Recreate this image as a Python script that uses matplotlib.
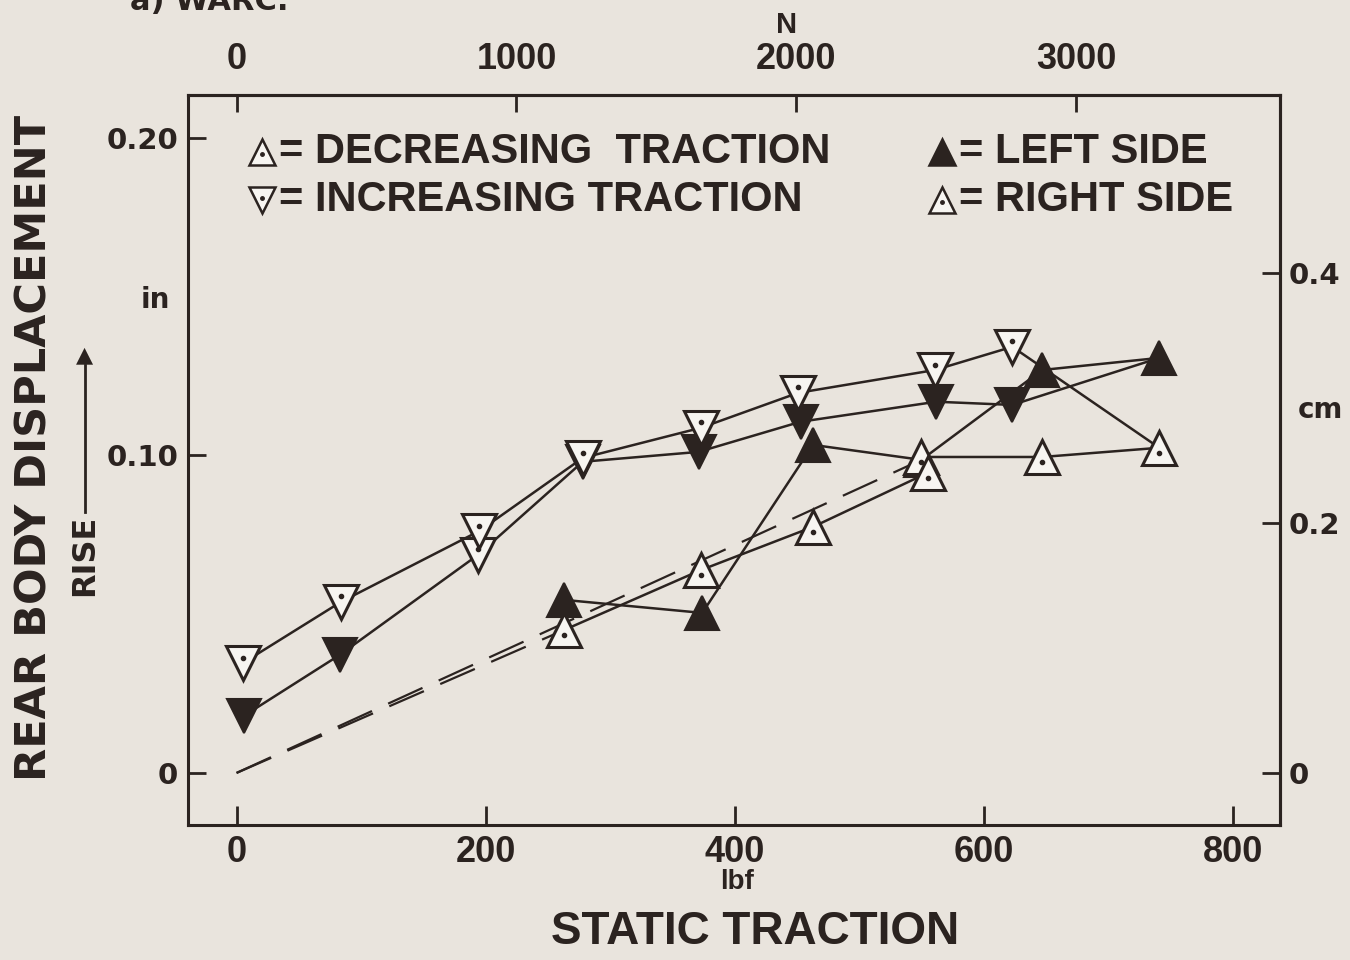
import matplotlib
matplotlib.use("Agg")
import matplotlib.pyplot as plt

# (lbf, in)
inc_right_lbf = [5, 84, 195, 278, 373, 451, 561, 623]
inc_right_in = [0.0346, 0.0539, 0.0762, 0.0992, 0.1087, 0.1197, 0.1269, 0.1342]
inc_left_lbf = [6, 83, 194, 278, 371, 453, 562, 623]
inc_left_in = [0.0180, 0.0372, 0.0687, 0.0980, 0.1011, 0.1106, 0.1169, 0.1159]
inc_left_hollow = [False, False, True, False, False, False, False, False]
dec_left_lbf = [741, 647, 550, 463, 374, 263]
dec_left_in = [0.1307, 0.1269, 0.0986, 0.1033, 0.0504, 0.0545]
dec_right_lbf = [741, 647, 550, 555, 463, 373, 263]
dec_right_in = [0.1024, 0.0995, 0.0995, 0.0945, 0.0775, 0.0639, 0.0450]
fit_a_lbf = [0, 263]
fit_a_in = [0, 0.0450]
fit_b_lbf = [0, 550]
fit_b_in = [0, 0.0986]

lbf_ticks = [0, 200, 400, 600, 800]
in_ticks = [0, 0.10, 0.20]
in_labels = ["0", "0.10", "0.20"]
n_ticks = [0, 1000, 2000, 3000]
cm_ticks = [0, 0.2, 0.4]
cm_labels = ["0", "0.2", "0.4"]

INK = "#2b2320"
PAPER = "#e9e4dd"
HOLLOW = "#f7f5f1"
NARROW = ["Liberation Sans", "DejaVu Sans"]
WIDE = ["DejaVu Sans"]

fig = plt.figure(figsize=(13.5, 9.6), dpi=100, facecolor=PAPER)
ax = fig.add_axes([188/1350, 1-825/960, 1092/1350, 730/960], facecolor=PAPER)
ax.set_xlim(-39, 838)
ax.set_ylim(-0.0164, 0.2135)

lw = 1.8
ax.plot(inc_right_lbf + dec_right_lbf[:1], inc_right_in + dec_right_in[:1], color=INK, lw=lw, zorder=2)
ax.plot(inc_left_lbf + dec_left_lbf[:1], inc_left_in + dec_left_in[:1], color=INK, lw=lw, zorder=2)
ax.plot(dec_left_lbf, dec_left_in, color=INK, lw=lw, zorder=2)
ax.plot(dec_right_lbf, dec_right_in, color=INK, lw=lw, zorder=2)
ax.plot(fit_a_lbf, fit_a_in, color=INK, lw=1.6, dashes=(17, 8), zorder=1)
ax.plot(fit_b_lbf, fit_b_in, color=INK, lw=1.6, dashes=(17, 8), zorder=1)

ms = 24
def marks(xs, ys, m, hollow):
    for x, y, h in zip(xs, ys, hollow):
        if h:
            ax.plot(x, y, m, ms=ms, mfc=HOLLOW, mec=INK, mew=2.2, zorder=4)
            dy = -0.0017 if m == "^" else 0.0017
            ax.plot(x, y + dy, "o", ms=3, color=INK, zorder=5)
        else:
            ax.plot(x, y, m, ms=ms, mfc=INK, mec=INK, mew=1.5, zorder=3)

marks(inc_left_lbf, inc_left_in, "v", inc_left_hollow)
marks(dec_left_lbf, dec_left_in, "^", [False] * len(dec_left_lbf))
marks(inc_right_lbf, inc_right_in, "v", [True] * len(inc_right_lbf))
marks(dec_right_lbf, dec_right_in, "^", [True] * len(dec_right_lbf))

# axes frame and ticks
for s in ax.spines.values():
    s.set_linewidth(2.2)
    s.set_color(INK)
ax.set_xticks(lbf_ticks)
ax.set_xticklabels([str(t) for t in lbf_ticks], family=NARROW, weight="bold", size=26, color=INK)
ax.set_yticks(in_ticks)
ax.set_yticklabels(in_labels, family=WIDE, weight="bold", size=21, color=INK)
ax.tick_params(axis="x", direction="in", length=14, width=2, pad=7, colors=INK)
ax.tick_params(axis="y", direction="in", length=13, width=2, pad=7, colors=INK)

top = ax.secondary_xaxis("top", functions=(lambda v: v * 4.448, lambda v: v / 4.448))
top.set_xticks(n_ticks)
top.set_xticklabels([str(t) for t in n_ticks], family=NARROW, weight="bold", size=26, color=INK)
top.tick_params(direction="in", length=12, width=2, pad=13, colors=INK)
top.spines["top"].set_linewidth(2.2)

right = ax.secondary_yaxis("right", functions=(lambda v: v * 2.54, lambda v: v / 2.54))
right.set_yticks(cm_ticks)
right.set_yticklabels(cm_labels, family=WIDE, weight="bold", size=21, color=INK)
right.tick_params(direction="in", length=13, width=2, pad=6, colors=INK)
right.spines["right"].set_linewidth(2.2)

# unit and axis titles
fig.text(787/1350, 1-25/960, "N", family=NARROW, weight="bold", size=21, color=INK, ha="center", va="center")
fig.text(737/1350, 1-882/960, "lbf", family=NARROW, weight="bold", size=20, color=INK, ha="center", va="center")
fig.text(755/1350, 1-932/960, "STATIC TRACTION", family=NARROW, weight="bold", size=33, color=INK, ha="center", va="center")
fig.text(155/1350, 1-300/960, "in", family=WIDE, weight="bold", size=20, color=INK, ha="center", va="center")
fig.text(1320/1350, 1-410/960, "cm", family=WIDE, weight="bold", size=20, color=INK, ha="center", va="center")
fig.text(35/1350, 1-448/960, "REAR BODY DISPLACEMENT", family=WIDE, weight="bold", size=31,
         color=INK, ha="center", va="center", rotation=90)
fig.text(85/1350, 1-555/960, "RISE", family=WIDE, weight="bold", size=23, color=INK,
         ha="center", va="center", rotation=90)
fig.add_artist(plt.Line2D([85/1350, 85/1350], [1-512/960, 1-365/960], color=INK, lw=2))
fig.text(85/1350, 1-355/960, "\u25B2", family=WIDE, size=16, color=INK, ha="center", va="center")
fig.text(130/1350, 1-2/960, "a) WARC.", family=WIDE, weight="bold", size=22, color=INK, ha="left", va="center")

# key written inside the frame
def key(px, py, m, filled, label):
    xa, ya = (px - 188) / 1092, (825 - py) / 730
    ax.plot(xa, ya, m, ms=19, mfc=INK if filled else HOLLOW, mec=INK, mew=1.8,
            transform=ax.transAxes, clip_on=False, zorder=6)
    if not filled:
        dy = -0.003 if m == "^" else 0.003
        ax.plot(xa, ya + dy, "o", ms=2.5, color=INK, transform=ax.transAxes, zorder=7)
    ax.text(xa + 0.016, ya, label, transform=ax.transAxes, family=NARROW, weight="bold",
            size=30, color=INK, ha="left", va="center")

key(262, 152, "^", False, "= DECREASING  TRACTION")
key(262, 200, "v", False, "= INCREASING TRACTION")
key(942, 152, "^", True, "= LEFT SIDE")
key(942, 200, "^", False, "= RIGHT SIDE")

fig.savefig("out.png", dpi=100, facecolor=PAPER)
